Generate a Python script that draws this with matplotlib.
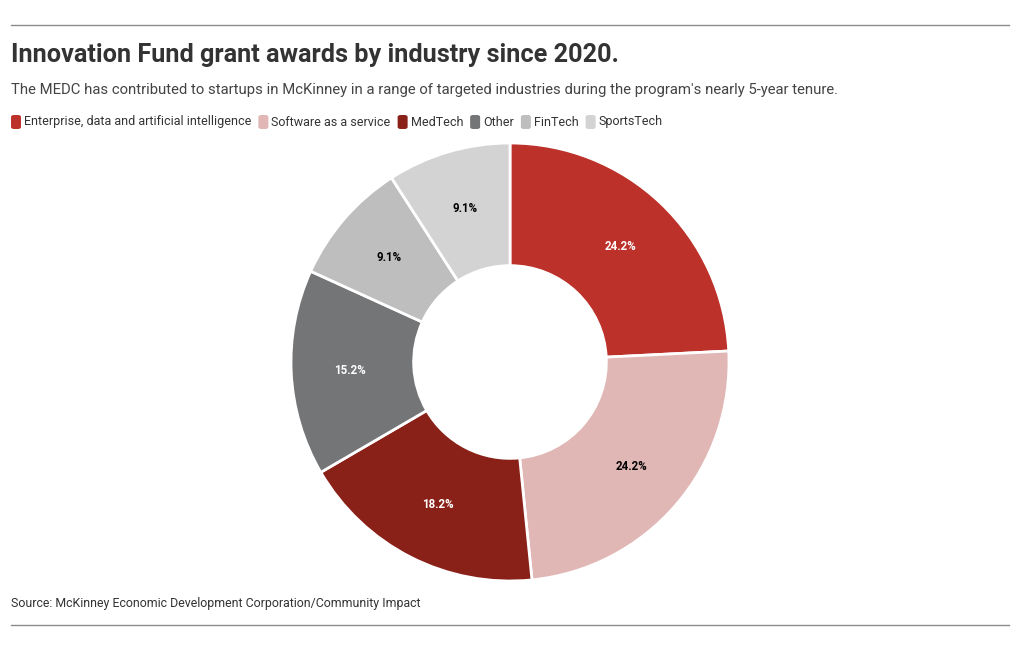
import matplotlib
matplotlib.use("Agg")
import matplotlib.pyplot as plt
from matplotlib.patches import FancyBboxPatch
from matplotlib.lines import Line2D

categories = ["Enterprise, data and artificial intelligence", "Software as a service",
              "MedTech", "Other", "FinTech", "SportsTech"]
shares = [24.2, 24.2, 18.2, 15.2, 9.1, 9.1]
colors = ["#BC3129", "#E0B7B5", "#8A2119", "#747577", "#BEBEBE", "#D2D3D2"]
label_colors = ["white", "black", "white", "white", "black", "black"]

title = "Innovation Fund grant awards by industry since 2020."
subtitle = ("The MEDC has contributed to startups in McKinney in a range of targeted "
            "industries during the program's nearly 5-year tenure.")
source = "Source: McKinney Economic Development Corporation/Community Impact"

plt.rcParams['font.family'] = ['Roboto', 'DejaVu Sans']

W, H = 1020, 650
fig = plt.figure(figsize=(W / 100, H / 100), dpi=100)

def fx(px):
    return px / W

def fy(py):
    return 1 - py / H

# rules
for y in (25, 625):
    fig.add_artist(Line2D([fx(11), fx(1009)], [fy(y), fy(y)], color="#8c8c8c", lw=1))

fig.text(fx(11), fy(55), title, fontsize=18.2, fontweight="bold", color="#333333",
         va="center", ha="left")
fig.text(fx(11), fy(90), subtitle, fontsize=10.75, color="#444444", va="center", ha="left")
fig.text(fx(11), fy(603), source, fontsize=8.9, color="#333333", va="center", ha="left")

# legend drawn manually
fig.canvas.draw()
renderer = fig.canvas.get_renderer()
x = 11
ly = 122
for cat, col in zip(categories, colors):
    box = FancyBboxPatch((fx(x), fy(ly + 7)), fx(10), 14 / H,
                         boxstyle="round,pad=0,rounding_size=0.003",
                         transform=fig.transFigure, facecolor=col, edgecolor="none")
    fig.add_artist(box)
    t = fig.text(fx(x + 13), fy(ly), cat, fontsize=9.0, color="#333333",
                 va="center", ha="left")
    bb = t.get_window_extent(renderer)
    x = x + 13 + bb.width + 7

# donut
cx, cy, r = 510, 362, 219
ax = fig.add_axes([fx(cx - r), fy(cy + r), 2 * r / W, 2 * r / H])
wedges, texts, autotexts = ax.pie(
    shares, colors=colors, startangle=90, counterclock=False,
    autopct="%.1f%%", pctdistance=0.73,
    wedgeprops=dict(width=0.56, edgecolor="white", linewidth=2))
for at, c in zip(autotexts, label_colors):
    at.set_color(c)
    at.set_fontsize(8.3)
    at.set_fontweight("bold")
ax.set_xlim(-1, 1)
ax.set_ylim(-1, 1)
ax.set_aspect("equal")
ax.axis("off")

fig.savefig("out.png", dpi=100)
